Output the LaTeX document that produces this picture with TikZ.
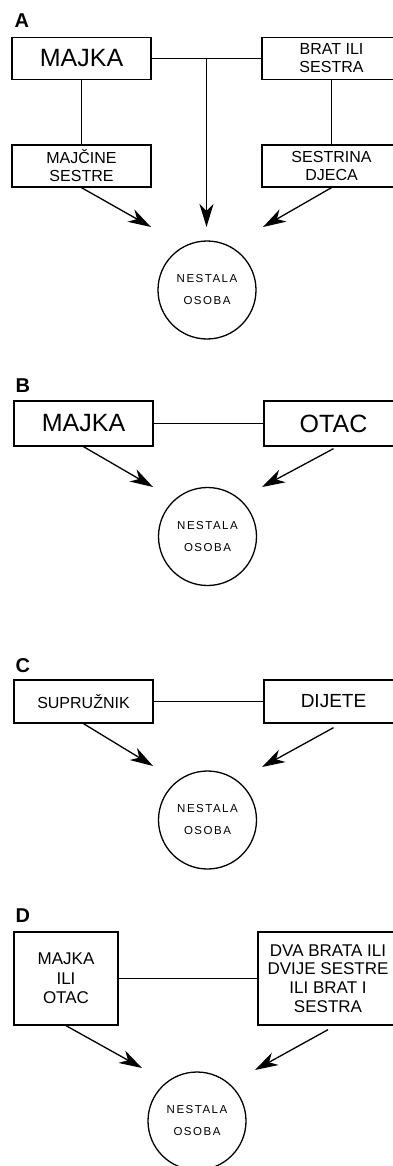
\documentclass[tikz,border=0pt]{standalone}
\usepackage{fontspec}
\setmainfont{Liberation Sans}
\newfontfamily\osobafont[LetterSpace=13]{Liberation Sans}
\usetikzlibrary{arrows.meta,calc}

\begin{document}
\begin{tikzpicture}[x=1pt, y=-1pt, line width=1.3pt,
    box/.style={draw, inner sep=0pt, minimum width=139pt, minimum height=42pt, align=center},
    big/.style={font=\fontsize{25}{30}\selectfont},
    mid/.style={font=\fontsize{16}{18}\selectfont},
    osoba/.style={draw, circle, minimum size=98pt, inner sep=0pt, align=center,
        font=\osobafont\fontsize{11.5}{22}\selectfont},
    panel/.style={anchor=base west, inner sep=0pt, font=\bfseries\fontsize{20}{24}\selectfont},
    arr/.style={-{Stealth[length=23pt, width=14pt, inset=7pt]}}]
            \useasboundingbox (0,0) rectangle (393,1166);
            % A
            \node[panel] (LabA) at (14,28) {A};
            \node[box, big] (MajkaA) at (81.5,58.5) {MAJKA};
            \node[box, mid] (BratA) at (331.5,58.5) {BRAT ILI\\SESTRA};
            \node[box, mid] (SestreA) at (81.5,166) {MAJČINE\\SESTRE};
            \node[box, mid] (DjecaA) at (331.5,166) {SESTRINA\\DJECA};
            \node[osoba] (OsobaA) at (207,290) {NESTALA\\OSOBA};
            \coordinate (JoinA) at ($(MajkaA.east)!0.5!(BratA.west)$);
            \coordinate (TipA1) at (151,227);
            \coordinate (TipA2) at (JoinA |- TipA1);
            \coordinate (TipA3) at (263,227);
            \draw (MajkaA) -- (BratA);
            \draw (MajkaA) -- (SestreA);
            \draw (BratA) -- (DjecaA);
            \draw[arr] (JoinA) -- (TipA2);
            \draw[arr] (SestreA.south) -- (TipA1);
            \draw[arr] (DjecaA.south) -- (TipA3);
            % B
            \node[panel] (LabB) at (15,392) {B};
            \node[box, big, minimum height=45pt] (MajkaB) at (83.5,423.5) {MAJKA};
            \node[box, big, minimum height=45pt] (OtacB) at (333.5,423.5) {OTAC};
            \node[osoba] (OsobaB) at (207.5,536.5) {NESTALA\\OSOBA};
            \coordinate (TipB1) at (153,487);
            \coordinate (TipB2) at (262,487);
            \draw (MajkaB) -- (OtacB);
            \draw[arr] (MajkaB.south) -- (TipB1);
            \draw[arr] ([yshift=-2pt]OtacB.south) -- (TipB2);
            % C
            \node[panel] (LabC) at (15,672) {C};
            \node[box, font=\fontsize{16}{18}\selectfont, minimum height=43pt] (SupruznikC) at (83.5,701.5) {SUPRUŽNIK};
            \node[box, font=\fontsize{19}{22}\selectfont, minimum height=43pt] (DijeteC) at (333.5,701.5) {DIJETE};
            \node[osoba] (OsobaC) at (207.5,820) {NESTALA\\OSOBA};
            \coordinate (TipC1) at (153,766);
            \coordinate (TipC2) at (262,767);
            \draw (SupruznikC) -- (DijeteC);
            \draw[arr] (SupruznikC.south) -- (TipC1);
            \draw[arr] ([yshift=-4pt]DijeteC.south) -- (TipC2);
            % D
            \node[panel] (LabD) at (15,922) {D};
            \node[box, font=\fontsize{17}{19.5}\selectfont, minimum width=104pt, minimum height=93pt] (RoditeljD) at (66,978.5) {MAJKA\\ILI\\OTAC};
            \node[box, font=\fontsize{17}{18.7}\selectfont, minimum width=140pt, minimum height=93pt] (BracaD) at (328,978.5) {DVA BRATA ILI\\DVIJE SESTRE\\ILI BRAT I\\SESTRA};
            \node[osoba] (OsobaD) at (197,1121) {NESTALA\\OSOBA};
            \coordinate (TipD1) at (142,1068);
            \coordinate (TipD2) at (255,1070);
            \draw (RoditeljD) -- (BracaD);
            \draw[arr] (RoditeljD.south) -- (TipD1);
            \draw[arr] ([yshift=-4pt]BracaD.south) -- (TipD2);
\end{tikzpicture}
\end{document}
